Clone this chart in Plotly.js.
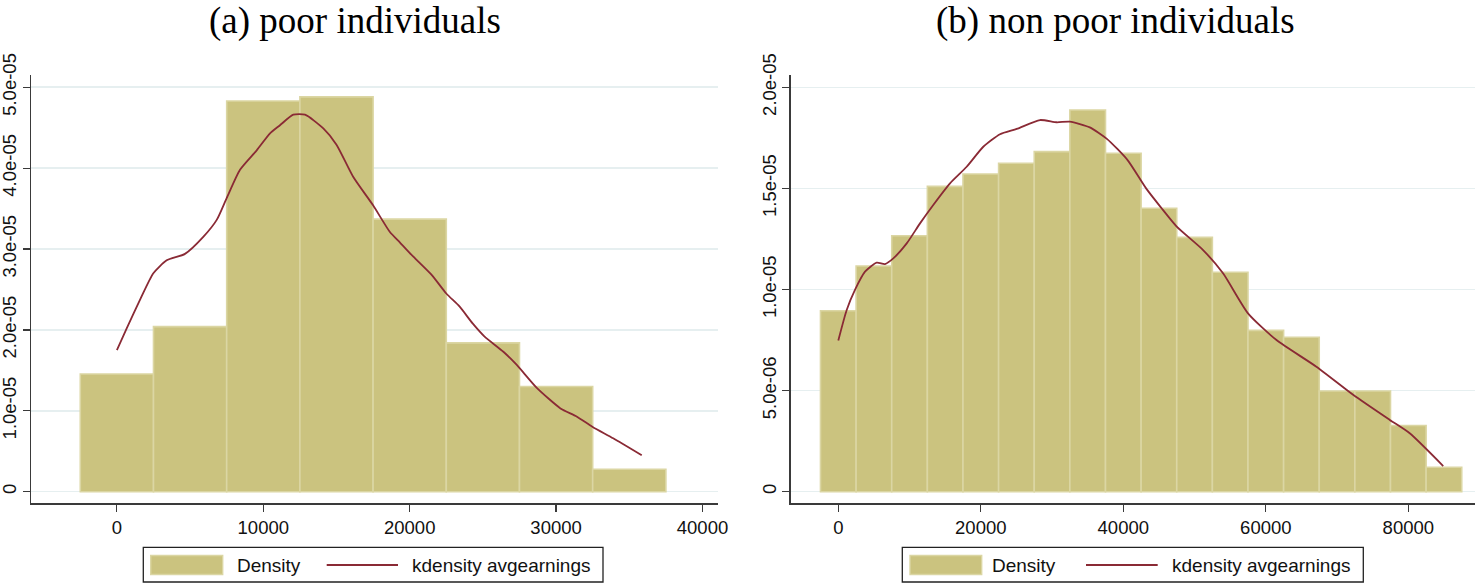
<!DOCTYPE html>
<html>
<head>
<meta charset="utf-8">
<script src="https://cdn.plot.ly/plotly-3.0.1.min.js"></script>
<style>html,body{margin:0;padding:0;background:#fff;}#chart{width:1475px;height:583px;}</style>
</head>
<body>
<div id="chart"></div>
<script>
// ---- Data ----
const poorBinCenters = [0, 5000, 10000, 15000, 20000, 25000, 30000, 35000];
const poorDensity = [1.455e-5, 2.04e-5, 4.83e-5, 4.88e-5, 3.37e-5, 1.84e-5, 1.30e-5, 0.277e-5];
const poorKdX = [0, 670, 1600, 2490, 3400, 4650, 5900, 6820, 7500, 8410, 9550, 10460, 11140, 12050, 12850, 14100, 15000, 16150, 17500, 18650, 19340, 20250, 21500, 22500, 23400, 24300, 25100, 26400, 27300, 28700, 30300, 31400, 32500, 33900, 35850];
const poorKdY = [1.75e-5, 2.02e-5, 2.38e-5, 2.70e-5, 2.86e-5, 2.94e-5, 3.15e-5, 3.36e-5, 3.63e-5, 3.98e-5, 4.22e-5, 4.43e-5, 4.53e-5, 4.66e-5, 4.66e-5, 4.49e-5, 4.29e-5, 3.89e-5, 3.54e-5, 3.21e-5, 3.08e-5, 2.905e-5, 2.68e-5, 2.45e-5, 2.29e-5, 2.08e-5, 1.92e-5, 1.73e-5, 1.57e-5, 1.28e-5, 1.03e-5, 0.93e-5, 0.80e-5, 0.66e-5, 0.45e-5];

const nonPoorBinCenters = [0, 5000, 10000, 15000, 20000, 25000, 30000, 35000, 40000, 45000, 50000, 55000, 60000, 65000, 70000, 75000, 80000, 85000];
const nonPoorDensity = [0.895e-5, 1.116e-5, 1.266e-5, 1.510e-5, 1.571e-5, 1.624e-5, 1.682e-5, 1.888e-5, 1.674e-5, 1.402e-5, 1.258e-5, 1.085e-5, 0.798e-5, 0.764e-5, 0.498e-5, 0.498e-5, 0.327e-5, 0.121e-5];
const nonPoorKdX = [0, 1180, 2340, 3750, 5390, 6550, 7720, 9600, 11470, 13330, 15680, 18020, 20350, 22700, 25040, 28300, 30650, 32500, 35300, 37700, 40600, 43200, 45300, 47500, 51200, 54000, 57500, 61500, 67100, 72300, 77400, 80200, 84900];
const nonPoorKdY = [0.748e-5, 0.899e-5, 0.998e-5, 1.088e-5, 1.133e-5, 1.126e-5, 1.154e-5, 1.228e-5, 1.327e-5, 1.418e-5, 1.525e-5, 1.607e-5, 1.706e-5, 1.768e-5, 1.794e-5, 1.838e-5, 1.827e-5, 1.830e-5, 1.802e-5, 1.745e-5, 1.640e-5, 1.500e-5, 1.405e-5, 1.311e-5, 1.195e-5, 1.080e-5, 0.882e-5, 0.750e-5, 0.618e-5, 0.478e-5, 0.355e-5, 0.289e-5, 0.127e-5];

const binWidth = 5000;
const poorYTicks = [0, 1e-5, 2e-5, 3e-5, 4e-5, 5e-5];
const poorYTickText = ["0", "1.0e-05", "2.0e-05", "3.0e-05", "4.0e-05", "5.0e-05"];
const nonPoorYTicks = [0, 5e-6, 1e-5, 1.5e-5, 2e-5];
const nonPoorYTickText = ["0", "5.0e-06", "1.0e-05", "1.5e-05", "2.0e-05"];
const poorXTicks = [0, 10000, 20000, 30000, 40000];
const poorXTickText = ["0", "10000", "20000", "30000", "40000"];
const nonPoorXTicks = [0, 20000, 40000, 60000, 80000];
const nonPoorXTickText = ["0", "20000", "40000", "60000", "80000"];
const titles = ["(a) poor individuals", "(b) non poor individuals"];
const legendLabels = ["Density", "kdensity avgearnings"];

// ---- Styles ----
const W = 1475, H = 583;
const px = x => x / W;
const py = y => 1 - y / H;
const barFill = "#cbc37f";
const barEdge = "#dbd6a3";
const lineCol = "#8a2a35";
const gridCol = "#e6eff0";
const axisCol = "#3a3a3a";
const sans = "Liberation Sans, Arial, sans-serif";
const serif = "Liberation Serif, Times New Roman, serif";

const traces = [
  {type: "bar", x: poorBinCenters, y: poorDensity, width: binWidth, xaxis: "x", yaxis: "y",
   marker: {color: barFill, line: {color: barEdge, width: 1.6}}, showlegend: false, hoverinfo: "skip"},
  {type: "scatter", mode: "lines", x: poorKdX, y: poorKdY, xaxis: "x", yaxis: "y",
   line: {color: lineCol, width: 1.8, shape: "spline", smoothing: 0.6}, showlegend: false, hoverinfo: "skip"},
  {type: "bar", x: nonPoorBinCenters, y: nonPoorDensity, width: binWidth, xaxis: "x2", yaxis: "y2",
   marker: {color: barFill, line: {color: barEdge, width: 1.6}}, showlegend: false, hoverinfo: "skip"},
  {type: "scatter", mode: "lines", x: nonPoorKdX, y: nonPoorKdY, xaxis: "x2", yaxis: "y2",
   line: {color: lineCol, width: 1.8, shape: "spline", smoothing: 0.6}, showlegend: false, hoverinfo: "skip"}
];

const xCommon = {
  showline: true, linecolor: axisCol, linewidth: 1.4, mirror: false,
  ticks: "outside", ticklen: 7, tickwidth: 1.2, tickcolor: axisCol,
  showgrid: false, zeroline: false, tickmode: "array",
  tickfont: {family: sans, size: 18.5, color: "#111"}
};
const yCommon = {
  showline: true, linecolor: axisCol, linewidth: 1.4,
  ticks: "outside", ticklen: 7, tickwidth: 1.2, tickcolor: axisCol,
  showgrid: true, gridcolor: gridCol, gridwidth: 1.5, zeroline: false,
  tickangle: -90, tickmode: "array", ticklabelstandoff: -1,
  tickfont: {family: sans, size: 18.5, color: "#111"}
};
const yDomain = [py(503.3), py(75)];

const layout = {
  width: W, height: H,
  margin: {l: 0, r: 0, t: 0, b: 0},
  paper_bgcolor: "#fff", plot_bgcolor: "#fff",
  barmode: "overlay", bargap: 0,
  xaxis: Object.assign({}, xCommon, {domain: [px(31), px(718)], range: [-5867, 41060], tickvals: poorXTicks, ticktext: poorXTickText, anchor: "y"}),
  yaxis: Object.assign({}, yCommon, {domain: yDomain, range: [-1.434e-6, 5.151e-5], tickvals: poorYTicks, ticktext: poorYTickText, anchor: "x"}),
  xaxis2: Object.assign({}, xCommon, {domain: [px(790.7), 1], range: [-6680, 89360], tickvals: nonPoorXTicks, ticktext: nonPoorXTickText, anchor: "y2"}),
  yaxis2: Object.assign({}, yCommon, {domain: yDomain, range: [-5.74e-7, 2.0608e-5], tickvals: nonPoorYTicks, ticktext: nonPoorYTickText, anchor: "x2"}),
  annotations: [
    {text: titles[0], xref: "paper", yref: "paper", x: px(355), y: py(21), xanchor: "center", yanchor: "middle", showarrow: false,
     font: {family: serif, size: 37, color: "#000"}},
    {text: titles[1], xref: "paper", yref: "paper", x: px(1115), y: py(21), xanchor: "center", yanchor: "middle", showarrow: false,
     font: {family: serif, size: 37, color: "#000"}}
  ],
  shapes: []
};

// Legends (one per panel), drawn as boxes with swatches
const legends = [
  {box: [143.3, 603], sw: [150.7, 222.7], t1: 235, ln: [326.7, 398], t2: 410},
  {box: [902.3, 1363.3], sw: [910, 981.7], t1: 990, ln: [1086, 1157.7], t2: 1170}
];
legends.forEach(L => {
  layout.shapes.push({type: "rect", xref: "paper", yref: "paper", x0: px(L.box[0]), x1: px(L.box[1]), y0: py(582), y1: py(547.3),
    line: {color: "#222", width: 1.3}, fillcolor: "#fff", layer: "above"});
  layout.shapes.push({type: "rect", xref: "paper", yref: "paper", x0: px(L.sw[0]), x1: px(L.sw[1]), y0: py(574.5), y1: py(555.5),
    line: {color: barEdge, width: 1.4}, fillcolor: barFill, layer: "above"});
  layout.shapes.push({type: "line", xref: "paper", yref: "paper", x0: px(L.ln[0]), x1: px(L.ln[1]), y0: py(565), y1: py(565),
    line: {color: lineCol, width: 1.8}, layer: "above"});
  layout.annotations.push({text: legendLabels[0], xref: "paper", yref: "paper", x: px(L.t1), y: py(565), xanchor: "left", yanchor: "middle",
    showarrow: false, font: {family: sans, size: 19, color: "#111"}});
  layout.annotations.push({text: legendLabels[1], xref: "paper", yref: "paper", x: px(L.t2), y: py(565), xanchor: "left", yanchor: "middle",
    showarrow: false, font: {family: sans, size: 19, color: "#111"}});
});

Plotly.newPlot("chart", traces, layout, {staticPlot: true, displayModeBar: false});
</script>
</body>
</html>
